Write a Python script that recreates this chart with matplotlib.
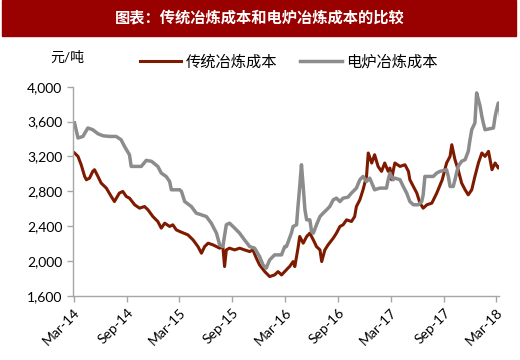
import pandas as pd
import matplotlib
matplotlib.use('Agg')
import matplotlib.pyplot as plt
import matplotlib.dates as mdates
from matplotlib.patches import Rectangle
from matplotlib.ticker import FuncFormatter

plt.rcParams['font.family'] = ['Lato', 'Noto Sans CJK SC', 'DejaVu Sans']

# --- datos (元/吨) ---
trad_dates = ['2014-03-04', '2014-03-16', '2014-03-27', '2014-04-08', '2014-04-14', '2014-04-25',
              '2014-05-06', '2014-05-12', '2014-05-24', '2014-06-04', '2014-06-22', '2014-07-09',
              '2014-07-20', '2014-08-06', '2014-08-18', '2014-08-30', '2014-09-10', '2014-09-28',
              '2014-10-15', '2014-11-01', '2014-11-13', '2014-11-30', '2014-12-17', '2014-12-29',
              '2015-01-10', '2015-01-27', '2015-02-07', '2015-02-19', '2015-03-03', '2015-03-31',
              '2015-04-18', '2015-05-05', '2015-05-17', '2015-05-28', '2015-06-09', '2015-06-26',
              '2015-07-08', '2015-07-19', '2015-07-30', '2015-08-05', '2015-08-11', '2015-08-22',
              '2015-09-09', '2015-09-26', '2015-10-13', '2015-10-31', '2015-11-11', '2015-11-23',
              '2015-12-04', '2015-12-22', '2016-01-08', '2016-01-25', '2016-02-06', '2016-02-18',
              '2016-02-29', '2016-03-11', '2016-03-17', '2016-03-29', '2016-04-04', '2016-04-15',
              '2016-04-21', '2016-05-03', '2016-05-15', '2016-05-26', '2016-06-07', '2016-06-18',
              '2016-06-30', '2016-07-06', '2016-07-17', '2016-07-28', '2016-08-15', '2016-08-26',
              '2016-09-07', '2016-09-18', '2016-09-30', '2016-10-17', '2016-10-28', '2016-11-03',
              '2016-11-15', '2016-11-26', '2016-12-08', '2016-12-14', '2016-12-26', '2017-01-05',
              '2017-01-17', '2017-01-29', '2017-02-09', '2017-02-21', '2017-02-27', '2017-03-05',
              '2017-03-10', '2017-03-16', '2017-04-03', '2017-04-20', '2017-05-02', '2017-05-07',
              '2017-05-19', '2017-05-31', '2017-06-11', '2017-06-22', '2017-07-05', '2017-07-22',
              '2017-08-08', '2017-08-27', '2017-09-11', '2017-09-23', '2017-09-29', '2017-10-10',
              '2017-10-21', '2017-11-02', '2017-11-14', '2017-11-25', '2017-12-07', '2017-12-18',
              '2017-12-30', '2018-01-11', '2018-01-22', '2018-02-03', '2018-02-15', '2018-02-26',
              '2018-03-09', '2018-03-14']
trad_cost = [3240, 3201, 3105, 2971, 2933, 2952,
             3029, 3048, 2971, 2895, 2837, 2741,
             2683, 2780, 2799, 2741, 2722, 2646,
             2607, 2626, 2588, 2511, 2454, 2378,
             2435, 2397, 2416, 2358, 2339, 2301,
             2243, 2166, 2090, 2166, 2205, 2186,
             2166, 2148, 2166, 1937, 2128, 2148,
             2128, 2148, 2128, 2109, 2128, 2033,
             1956, 1879, 1822, 1841, 1879, 1841,
             1879, 1918, 1937, 1994, 1937, 2148,
             2282, 2205, 2282, 2320, 2243, 2166,
             2128, 1994, 2128, 2186, 2263, 2320,
             2397, 2416, 2473, 2454, 2511, 2626,
             2703, 2818, 2971, 3240, 3125, 3220,
             3086, 3029, 3125, 3029, 3067, 2933,
             3029, 3125, 3086, 3105, 3029, 2933,
             2856, 2780, 2665, 2607, 2646, 2665,
             2780, 2933, 3125, 3201, 3335, 3163,
             3048, 2895, 2818, 2760, 2818, 2971,
             3125, 3240, 3201, 3259, 3048, 3125,
             3067, 3086]

eaf_dates = ['2014-03-04', '2014-03-16', '2014-04-02', '2014-04-19', '2014-05-06', '2014-05-24',
             '2014-06-10', '2014-07-03', '2014-07-26', '2014-08-12', '2014-08-24', '2014-09-10',
             '2014-09-16', '2014-10-21', '2014-11-07', '2014-11-25', '2014-12-17', '2014-12-29',
             '2015-01-15', '2015-01-27', '2015-02-02', '2015-03-03', '2015-03-09', '2015-03-20',
             '2015-04-12', '2015-04-29', '2015-06-03', '2015-06-20', '2015-07-08', '2015-07-19',
             '2015-07-30', '2015-08-11', '2015-08-22', '2015-09-09', '2015-09-26', '2015-10-13',
             '2015-10-31', '2015-11-17', '2015-12-04', '2015-12-16', '2015-12-27', '2016-01-08',
             '2016-01-25', '2016-02-18', '2016-02-29', '2016-03-06', '2016-03-23', '2016-03-29',
             '2016-04-10', '2016-04-15', '2016-04-21', '2016-04-27', '2016-05-03', '2016-05-09',
             '2016-05-15', '2016-05-26', '2016-06-01', '2016-06-07', '2016-06-18', '2016-06-30',
             '2016-07-11', '2016-07-23', '2016-08-03', '2016-08-15', '2016-08-26', '2016-09-07',
             '2016-09-18', '2016-10-05', '2016-10-17', '2016-11-03', '2016-11-15', '2016-11-26',
             '2016-12-08', '2016-12-19', '2017-01-05', '2017-01-23', '2017-02-15', '2017-02-21',
             '2017-02-27', '2017-03-10', '2017-03-16', '2017-04-03', '2017-04-14', '2017-04-26',
             '2017-05-07', '2017-05-19', '2017-06-05', '2017-06-17', '2017-06-22', '2017-06-28',
             '2017-07-27', '2017-08-08', '2017-08-19', '2017-09-11', '2017-09-17', '2017-09-23',
             '2017-10-04', '2017-10-10', '2017-10-21', '2017-11-02', '2017-11-14', '2017-11-25',
             '2017-12-01', '2017-12-07', '2017-12-18', '2017-12-24', '2017-12-30', '2018-01-05',
             '2018-01-11', '2018-01-16', '2018-01-22', '2018-02-20', '2018-02-26', '2018-03-03',
             '2018-03-09', '2018-03-14', '2018-03-16']
eaf_cost = [3585, 3412, 3430, 3527, 3507, 3461,
            3438, 3430, 3430, 3392, 3315, 3220,
            3086, 3086, 3155, 3145, 3086, 3010,
            2970, 2913, 2818, 2818, 2798, 2683,
            2626, 2550, 2511, 2435, 2320, 2186,
            2166, 2416, 2435, 2378, 2320, 2243,
            2166, 2148, 2052, 1956, 1918, 2013,
            2071, 2071, 2166, 2166, 2320, 2397,
            2416, 2626, 2856, 3105, 2856, 2588,
            2473, 2473, 2339, 2320, 2416, 2511,
            2550, 2588, 2626, 2703, 2722, 2683,
            2722, 2733, 2780, 2837, 2933, 2971,
            2913, 2952, 2818, 2837, 2837, 2933,
            3010, 2933, 2952, 2933, 2856, 2780,
            2683, 2646, 2646, 2683, 2760, 2971,
            2971, 3010, 3029, 3048, 2971, 2856,
            2856, 2933, 3086, 3145, 3163, 3259,
            3392, 3507, 3585, 3929, 3852, 3775,
            3660, 3585, 3507, 3527, 3660, 3737,
            3814, 3775, 3680]

y_ticks = [1600, 2000, 2400, 2800, 3200, 3600, 4000]
title = '图表：传统冶炼成本和电炉冶炼成本的比较'
unit = '元/吨'
labels = ['传统冶炼成本', '电炉冶炼成本']

RED = '#7E1A00'
GREY = '#8C8C8C'
AXIS = '#A6A6A6'

fig = plt.figure(figsize=(5.2, 3.6), dpi=100)
ax = fig.add_axes([0.140, 0.178, 0.820, 0.581])

ax.plot(pd.to_datetime(trad_dates), trad_cost, color=RED, lw=2.2, label=labels[0])
ax.plot(pd.to_datetime(eaf_dates), eaf_cost, color=GREY, lw=2.5, label=labels[1])

ax.set_ylim(1600, 4000)
ax.set_yticks(y_ticks)
ax.yaxis.set_major_formatter(FuncFormatter(lambda v, p: f'{v:,.0f}'))
ax.set_xlim(pd.Timestamp('2014-02-26'), pd.Timestamp('2018-03-12'))
ax.xaxis.set_major_locator(mdates.MonthLocator(bymonth=[3, 9]))
ax.xaxis.set_major_formatter(mdates.DateFormatter('%b-%y'))

for s in ['top', 'right']:
    ax.spines[s].set_visible(False)
for s in ['left', 'bottom']:
    ax.spines[s].set_color(AXIS)
    ax.spines[s].set_linewidth(1.0)
ax.tick_params(axis='both', colors=AXIS, length=4, width=1.0, labelcolor='black', labelsize=10)
plt.setp(ax.get_xticklabels(), rotation=45, ha='right', rotation_mode='anchor')

# barra del título
fig.patches.append(Rectangle((0.003, 1 - 36 / 360), 0.990, 36 / 360,
                             transform=fig.transFigure, color='#990000', zorder=0))
fig.text(0.5, 1 - 18 / 360, title, color='white', fontsize=11, fontweight='bold',
         ha='center', va='center')
fig.text(67 / 520, 1 - 57 / 360, unit, fontsize=10, ha='center', va='center')

fig.legend(loc='center left', bbox_to_anchor=(140 / 520, 1 - 62 / 360), ncol=2,
           frameon=False, fontsize=11, handlelength=2.7, handletextpad=0.3,
           columnspacing=1.5, borderpad=0, borderaxespad=0)

fig.savefig('out.png', dpi=100)
